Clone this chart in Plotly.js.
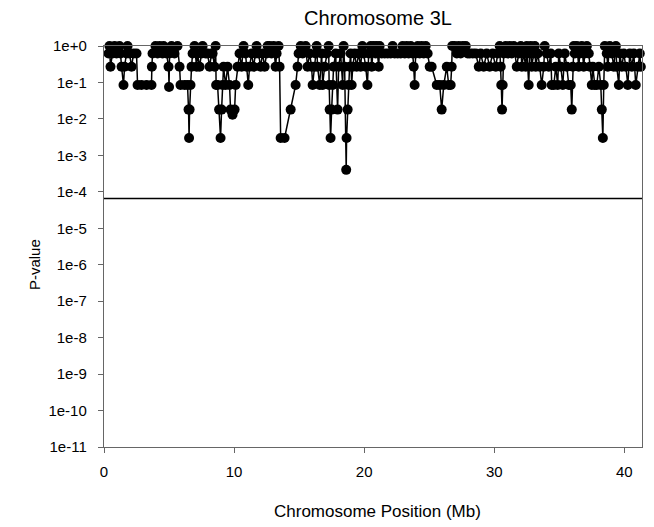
<!DOCTYPE html>
<html>
<head>
<meta charset="utf-8">
<script src="https://cdn.plot.ly/plotly-3.0.1.min.js"></script>
<style>html,body{margin:0;padding:0;background:#fff;}#chart{width:654px;height:527px;}</style>
</head>
<body>
<div id="chart"></div>
<script>
// Chromosome position (Mb) of each marker
var positionMb = [
  0.35,0.42,0.50,0.65,0.81,0.96,1.19,1.27,1.35,1.50,1.58,1.73,1.81,1.96,2.12,2.27,2.50,2.58,2.88,3.27,3.65,3.68,3.73,3.96,4.12,4.27,4.50,4.58,4.81,4.96,5.00,5.04,5.19,5.42,5.65,5.81,5.88,6.19,6.42,6.50,6.54,6.58,6.65,6.73,6.81,6.96,7.12,7.19,7.35,7.50,7.58,7.81,7.96,8.12,8.27,
  8.35,8.50,8.58,8.62,8.73,8.85,8.96,9.04,9.12,9.19,9.35,9.50,9.65,9.73,9.88,10.04,10.12,10.27,10.42,10.58,10.73,10.88,10.96,11.09,11.19,11.35,11.50,11.65,11.73,11.88,12.04,12.19,12.35,12.50,12.58,12.73,12.88,13.04,13.19,13.27,13.42,13.50,13.58,13.88,14.35,14.73,14.88,14.96,15.12,15.27,15.50,15.65,15.81,15.96,16.04,16.19,16.27,16.35,16.42,
  16.58,16.73,16.81,16.96,17.12,17.27,17.31,17.35,17.42,17.50,17.58,17.65,17.81,17.96,18.04,18.19,18.35,18.42,18.50,18.62,18.65,18.73,18.81,18.88,18.96,19.04,19.12,19.27,19.42,19.58,19.73,19.86,19.96,20.12,20.25,20.35,20.50,20.58,20.73,20.88,20.96,21.12,21.19,21.35,21.58,21.81,22.04,22.19,22.35,22.58,22.81,22.96,23.12,23.27,23.42,23.58,23.73,23.81,23.88,23.96,24.12,24.27,24.42,24.58,24.73,24.88,
  25.04,25.19,25.58,25.81,25.96,26.12,26.35,26.50,26.65,26.73,26.77,26.96,27.12,27.27,27.42,27.58,27.81,27.96,28.12,28.35,28.58,28.81,28.96,29.19,29.42,29.65,29.88,30.12,30.27,30.42,30.50,30.54,30.60,30.65,30.73,30.88,31.04,31.19,31.35,31.50,31.73,31.88,32.04,32.12,32.27,32.42,32.50,32.65,32.73,32.81,32.88,33.04,
  33.12,33.19,33.35,33.50,33.65,33.81,33.88,34.04,34.19,34.35,34.42,34.58,34.73,34.88,34.96,35.12,35.27,35.42,35.58,35.73,35.88,35.96,36.04,36.12,36.19,36.35,36.50,36.58,36.73,36.88,36.96,37.12,37.27,37.35,37.50,37.58,37.73,37.88,38.04,38.19,38.27,38.35,38.42,38.50,38.65,38.73,38.88,39.04,39.19,39.35,39.42,39.58,39.65,39.81,39.96,40.12,40.27,40.42,40.58,40.73,40.88,41.04,41.19,41.27
];
// P-value of each marker
var pValue = [
  0.62,1,0.27,0.62,1,0.62,1,0.62,0.27,0.085,0.27,0.62,1,0.62,0.27,0.62,0.62,0.085,0.085,0.085,0.085,0.27,0.62,1,0.62,1,0.62,1,0.62,0.27,0.075,0.62,1,0.62,1,0.27,0.085,0.085,0.085,0.018,0.003,0.018,0.085,0.27,0.62,1,0.27,0.62,0.27,0.62,1,0.62,0.62,0.27,0.62,
  0.62,0.27,1,0.085,0.085,0.018,0.003,0.018,0.085,0.27,0.085,0.27,0.085,0.018,0.013,0.018,0.085,0.27,0.62,0.27,1,0.62,0.27,0.085,0.27,0.62,0.27,0.62,1,0.62,0.27,0.62,0.27,0.62,1,1,0.62,1,0.27,0.62,1,0.27,0.003,0.003,0.018,0.085,0.27,0.62,1,0.62,1,0.27,0.62,0.27,0.085,0.27,0.62,1,0.27,
  0.085,0.62,0.085,0.27,0.62,1,0.085,0.018,0.003,0.018,0.085,0.27,0.62,0.018,0.27,0.62,0.085,1,0.27,0.0004,0.003,0.018,0.085,0.27,0.62,0.085,0.27,0.62,0.27,0.62,0.27,1,0.62,0.27,0.085,0.62,1,0.27,1,0.62,1,0.27,1,0.62,0.62,0.62,0.62,1,0.62,0.62,0.62,1,0.62,1,0.62,1,0.62,0.27,0.085,0.62,1,0.62,1,0.62,1,0.62,
  0.27,0.27,0.085,0.085,0.018,0.085,0.27,0.085,0.085,0.27,1,1,0.62,1,0.62,1,1,0.62,0.62,0.62,0.62,0.27,0.62,0.27,0.62,0.27,0.62,0.27,0.62,1,0.27,0.085,0.018,0.085,0.62,1,0.62,1,0.62,1,0.27,0.62,1,0.27,0.62,0.27,1,0.085,0.62,1,0.27,0.62,
  1,0.27,0.62,0.27,0.085,0.27,1,0.62,0.27,0.62,0.085,0.085,0.27,0.085,0.62,0.27,0.085,0.62,0.27,0.085,0.085,0.018,0.27,1,0.62,1,0.27,0.62,1,0.27,0.62,1,0.62,0.27,0.085,0.27,0.085,0.085,0.27,0.085,0.018,0.003,0.085,1,0.62,0.27,1,0.62,0.27,1,0.27,0.085,0.62,0.27,0.62,0.27,0.085,0.62,0.27,0.62,0.085,0.27,0.62,0.27
];
// Significance threshold
var thresholdPos = [0, 41.36];
var thresholdP = [6.6e-5, 6.6e-5];
var xTicks = [0, 10, 20, 30, 40];
var yTickVals = [1, 1e-1, 1e-2, 1e-3, 1e-4, 1e-5, 1e-6, 1e-7, 1e-8, 1e-9, 1e-10, 1e-11];
var yTickText = ["1e+0","1e-1","1e-2","1e-3","1e-4","1e-5","1e-6","1e-7","1e-8","1e-9","1e-10","1e-11"];

var font = "Arial, 'Liberation Sans', sans-serif";
var traces = [
  {x: thresholdPos, y: thresholdP, mode: 'lines', line: {color: '#000', width: 1.5}, hoverinfo: 'skip', showlegend: false},
  {x: positionMb, y: pValue, mode: 'lines+markers', cliponaxis: false,
   line: {color: '#000', width: 1.5},
   marker: {symbol: 'circle', size: 10, color: '#000'}, showlegend: false}
];
var axisStyle = {showline: true, mirror: true, linecolor: '#666', linewidth: 1.2,
  ticks: 'outside', ticklen: 5, tickwidth: 1, tickcolor: '#666', showgrid: false, zeroline: false,
  tickfont: {family: font, size: 15, color: '#000'}};
var layout = {
  width: 654, height: 527,
  margin: {l: 104, r: 12, t: 46, b: 80},
  paper_bgcolor: '#fff', plot_bgcolor: '#fff',
  font: {family: font, color: '#000'},
  title: {text: 'Chromosome 3L', font: {family: font, size: 20, color: '#000'},
          xref: 'container', x: 0.578, xanchor: 'center', yref: 'container', y: 0.966, yanchor: 'middle'},
  xaxis: Object.assign({}, axisStyle, {range: [0, 41.36], tickvals: xTicks, ticklabelstandoff: 6}),
  yaxis: Object.assign({}, axisStyle, {type: 'log', range: [-11, 0], tickvals: yTickVals, ticktext: yTickText, ticklabelstandoff: 8}),
  annotations: [
    {text: 'Chromosome Position (Mb)', xref: 'paper', yref: 'paper', x: 0.508, y: -0.16, xanchor: 'center', yanchor: 'middle',
     showarrow: false, font: {family: font, size: 17, color: '#000'}},
    {text: 'P-value', xref: 'paper', yref: 'paper', x: -0.128, y: 0.454, xanchor: 'center', yanchor: 'middle', textangle: -90,
     showarrow: false, font: {family: font, size: 15, color: '#000'}}
  ]
};
Plotly.newPlot('chart', traces, layout, {displayModeBar: false, staticPlot: true});
</script>
</body>
</html>
